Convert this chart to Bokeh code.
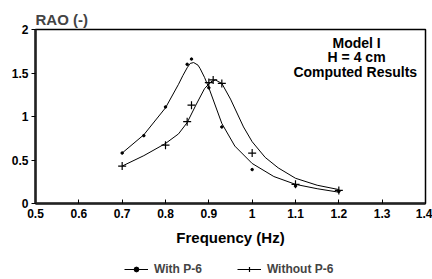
from bokeh.plotting import figure
from bokeh.models import Legend, LegendItem, FixedTicker, Range1d, ColumnDataSource
from bokeh.core.properties import value
from bokeh.layouts import column
from bokeh.embed import file_html
from bokeh.resources import INLINE

# Measured data points
with_x = [0.70, 0.75, 0.80, 0.85, 0.86, 0.90, 0.93, 1.00, 1.10, 1.20]
with_y = [0.58, 0.78, 1.11, 1.60, 1.66, 1.33, 0.88, 0.39, 0.20, 0.14]
without_x = [0.70, 0.80, 0.85, 0.86, 0.90, 0.91, 0.93, 1.00, 1.10, 1.20]
without_y = [0.43, 0.67, 0.94, 1.13, 1.39, 1.42, 1.38, 0.58, 0.22, 0.15]

# Computed curves
with_cx = [0.70, 0.75, 0.80, 0.83, 0.84, 0.85, 0.857, 0.865, 0.875, 0.88, 0.89, 0.90, 0.93, 0.96, 1.00, 1.05, 1.10, 1.15, 1.20]
with_cy = [0.58, 0.79, 1.10, 1.37, 1.47, 1.56, 1.61, 1.62, 1.59, 1.55, 1.45, 1.33, 0.92, 0.66, 0.46, 0.31, 0.22, 0.17, 0.13]
without_cx = [0.70, 0.75, 0.80, 0.83, 0.85, 0.87, 0.89, 0.905, 0.915, 0.93, 0.95, 0.98, 1.00, 1.03, 1.06, 1.10, 1.15, 1.20]
without_cy = [0.43, 0.55, 0.69, 0.80, 0.93, 1.13, 1.32, 1.40, 1.42, 1.38, 1.20, 0.88, 0.71, 0.53, 0.41, 0.29, 0.21, 0.16]

x_ticks = [0.5, 0.6, 0.7, 0.8, 0.9, 1.0, 1.1, 1.2, 1.3, 1.4]
x_tick_labels = ["0.5", "0.6", "0.7", "0.8", "0.9", "1", "1.1", "1.2", "1.3", "1.4"]
y_ticks = [0, 0.5, 1, 1.5, 2]
y_tick_labels = ["0", "0.5", "1", "1.5", "2"]

note_lines = ["Model I", "H = 4 cm", "Computed Results"]
note_x = [1.241, 1.241, 1.238]
note_y = [1.85, 1.683, 1.516]

FONT = "Liberation Sans"

p = figure(width=432, height=252, output_backend="svg", toolbar_location=None,
           x_range=Range1d(0.5, 1.4), y_range=Range1d(0, 2),
           title="RAO (-)",
           min_border_left=35, min_border_right=7, min_border_top=29, min_border_bottom=49)
p.background_fill_color = "white"
p.border_fill_color = "white"
p.grid.visible = False
p.outline_line_color = "black"
p.outline_line_width = 1.5

p.title.text_font = FONT
p.title.text_font_style = "bold"
p.title.text_font_size = "15px"
p.title.align = "left"
p.title.standoff = 4

p.xaxis.ticker = FixedTicker(ticks=x_ticks)
p.xaxis.major_label_overrides = {t: l for t, l in zip(x_ticks, x_tick_labels)}
p.yaxis.ticker = FixedTicker(ticks=y_ticks)
p.yaxis.major_label_overrides = {t: l for t, l in zip(y_ticks, y_tick_labels)}
for ax in (p.xaxis, p.yaxis):
    ax.axis_line_width = 2.5
    ax.axis_line_color = "#222222"
    ax.major_tick_line_color = "black"
    ax.major_tick_line_width = 1
    ax.minor_tick_line_color = None
    ax.major_label_text_font = FONT
    ax.major_label_text_font_style = "bold"
    ax.major_label_text_font_size = "12px"
    ax.major_label_text_color = "black"
p.xaxis.major_tick_in = 4
p.xaxis.major_tick_out = 0
p.xaxis.major_label_standoff = 5
p.yaxis.major_tick_in = 0
p.yaxis.major_tick_out = 4
p.yaxis.major_label_standoff = 3

p.xaxis.axis_label = "Frequency (Hz)"
p.xaxis.axis_label_text_font = FONT
p.xaxis.axis_label_text_font_style = "bold"
p.xaxis.axis_label_text_font_size = "15px"
p.xaxis.axis_label_text_color = "black"
p.xaxis.axis_label_standoff = 8

p.line(with_cx, with_cy, line_color="black", line_width=1)
p.scatter(with_x, with_y, marker="circle", size=2.5, fill_color="black", line_color="black")
p.line(without_cx, without_cy, line_color="black", line_width=1)
p.scatter(without_x, without_y, marker="cross", size=8, line_color="black", line_width=1.2)

note_src = ColumnDataSource(dict(x=note_x, y=note_y, text=note_lines))
p.text(x="x", y="y", text="text", source=note_src, text_font=value(FONT),
       text_font_style="bold", text_font_size="14px", text_align="center",
       text_baseline="middle", text_color="black")

# Legend strip below the chart (series kept out of its view; only the key is shown)
q = figure(width=432, height=27, output_backend="svg", toolbar_location=None,
           x_range=Range1d(10, 11), y_range=Range1d(10, 11),
           x_axis_type=None, y_axis_type=None,
           min_border_left=0, min_border_right=0, min_border_top=0, min_border_bottom=0)
q.grid.visible = False
q.outline_line_color = None
q.background_fill_color = "white"
q.border_fill_color = "white"
ql1 = q.line(with_cx, with_cy, line_color="black", line_width=1)
qs1 = q.scatter(with_x, with_y, marker="circle", size=2.5, fill_color="black", line_color="black")
ql2 = q.line(without_cx, without_cy, line_color="black", line_width=1)
qs2 = q.scatter(without_x, without_y, marker="cross", size=8, line_color="black", line_width=1.2)
legend = Legend(items=[LegendItem(label="With P-6", renderers=[ql1, qs1]),
                       LegendItem(label="Without P-6", renderers=[ql2, qs2])],
                orientation="horizontal", location=(89, 3),
                label_text_font=FONT, label_text_font_style="bold", label_text_font_size="12px",
                glyph_width=24, glyph_height=12, label_height=12, label_standoff=6, spacing=35,
                padding=2, margin=0,
                border_line_color=None, background_fill_alpha=0)
q.add_layout(legend)

open("out.html", "w").write(file_html(column(p, q, spacing=0), INLINE))
